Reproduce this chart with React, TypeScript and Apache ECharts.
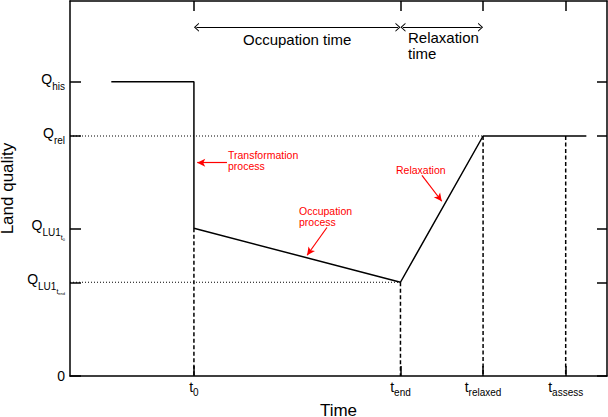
import React, { useEffect, useRef } from "react";
import * as echarts from "echarts";

// ---- data ----
const xTicks = [3, 8, 10, 12];
const xTickSubs = ["0", "end", "relaxed", "assess"];
const yTicks = [0, 25, 39.4, 64, 78.5];
const yTickLabels = [
  "{z|0}",
  "{q|Q}{s|LU1}{ss|t}{sss|end}",
  "{q|Q}{s|LU1}{ss|t}{sss|0}",
  "{q|Q}{s|rel}",
  "{q|Q}{s|his}",
];
const qualityPathX = [1, 3, 3, 8, 10, 12.5];
const qualityPathY = [78.5, 78.5, 39.4, 25, 64, 64];
// dotted reference lines [x0, x1, y]
const dottedLines = [
  [0, 10, 64],
  [0, 8, 25],
];
// dashed verticals [x, yTop]
const dashedLines = [
  [3, 39.4],
  [8, 25],
  [10, 64],
  [12, 64],
];
// time interval arrows [x0, x1, y]
const intervalArrows = [
  [3, 8, 93],
  [8, 10, 93],
];
// red annotation arrows [x0, y0, x1, y1]
const noteArrows = [
  [3.8, 56.9, 3.08, 56.9],
  [6.22, 39.6, 5.74, 32.2],
  [8.52, 53.5, 9.0, 46.6],
];

const FONT = "'Liberation Sans', Arial, Helvetica, sans-serif";
const CHEVRON = "path://M0,10 L5,0 L10,10 L8.6,10 L5,3 L1.4,10 Z";

export default function App() {
  const ref = useRef<HTMLDivElement>(null);
  useEffect(() => {
    if (!ref.current) return;
    document.body.style.margin = "0";
    document.body.style.overflow = "hidden";
    const chart = echarts.init(ref.current, null, { renderer: "svg", width: 608, height: 417 });
    const black = "#000";
    const findIdx = (arr: number[], v: number) =>
      arr.findIndex((a) => Math.abs(a - v) < 1e-6);

    const series: any[] = [];
    series.push({
      type: "line",
      data: qualityPathX.map((x, i) => [x, qualityPathY[i]]),
      symbol: "none",
      silent: true,
      lineStyle: { color: black, width: 1.5 },
      z: 5,
    });
    dottedLines.forEach(([x0, x1, y]) =>
      series.push({
        type: "line",
        data: [
          [x0, y],
          [x1, y],
        ],
        symbol: "none",
        silent: true,
        lineStyle: { color: black, width: 1, type: [1, 2] },
      })
    );
    dashedLines.forEach(([x, y]) =>
      series.push({
        type: "line",
        data: [
          [x, y],
          [x, 0],
        ],
        symbol: "none",
        silent: true,
        lineStyle: { color: black, width: 1.5, type: [4, 2.5] },
      })
    );
    series.push({
      type: "line",
      data: [],
      silent: true,
      markLine: {
        silent: true,
        animation: false,
        symbol: [CHEVRON, CHEVRON],
        symbolSize: [9, 5],
        label: { show: false },
        lineStyle: { color: black, width: 1.2, type: "solid" },
        data: intervalArrows.map(([x0, x1, y]) => [
          { coord: [x0 + 0.06, y] },
          { coord: [x1 - 0.06, y] },
        ]),
      },
    });
    series.push({
      type: "line",
      data: [],
      silent: true,
      markLine: {
        silent: true,
        animation: false,
        symbol: ["none", "arrow"],
        symbolSize: [6, 8],
        label: { show: false },
        lineStyle: { color: "#ff0000", width: 1.2, type: "solid" },
        data: noteArrows.map(([x0, y0, x1, y1]) => [
          { coord: [x0, y0] },
          { coord: [x1, y1] },
        ]),
      },
    });

    const axisLine = { show: true, onZero: false, lineStyle: { color: black, width: 1.5 } };
    const tickStyle = { color: black, width: 1.5 };

    chart.setOption({
      animation: false,
      grid: {
        left: 70,
        right: 1,
        top: 1,
        bottom: 41,
        containLabel: false,
        outerBoundsMode: "none",
      },
      xAxis: [
        {
          type: "value",
          min: 0,
          max: 13,
          position: "bottom",
          axisLine,
          splitLine: { show: false },
          axisTick: {
            show: true,
            inside: true,
            length: 10,
            customValues: xTicks,
            lineStyle: tickStyle,
          },
          axisLabel: {
            show: true,
            customValues: xTicks,
            margin: 4,
            formatter: (v: number) => {
              const i = findIdx(xTicks, v);
              return i < 0 ? "" : "{t|t}{ts|" + xTickSubs[i] + "}";
            },
            rich: {
              t: { fontSize: 14, fontFamily: FONT, color: black, padding: [0, 0, 4, 0] },
              ts: { fontSize: 10, fontFamily: FONT, color: black, padding: [7, 0, 0, 0] },
            },
          },
          name: "Time",
          nameLocation: "middle",
          nameGap: 18,
          nameTextStyle: { fontSize: 17, fontFamily: FONT, color: black },
        },
        {
          type: "value",
          min: 0,
          max: 13,
          position: "top",
          axisLine,
          splitLine: { show: false },
          axisTick: {
            show: true,
            inside: true,
            length: 10,
            customValues: xTicks,
            lineStyle: tickStyle,
          },
          axisLabel: { show: false },
        },
      ],
      yAxis: [
        {
          type: "value",
          min: 0,
          max: 100,
          position: "left",
          axisLine,
          splitLine: { show: false },
          axisTick: {
            show: true,
            inside: true,
            length: 11,
            customValues: yTicks,
            lineStyle: tickStyle,
          },
          axisLabel: {
            show: true,
            customValues: yTicks,
            margin: 5,
            formatter: (v: number) => {
              const i = findIdx(yTicks, v);
              return i < 0 ? "" : yTickLabels[i];
            },
            rich: {
              z: { fontSize: 14, fontFamily: FONT, color: black },
              q: { fontSize: 14, fontFamily: FONT, color: black, padding: [0, 0, 6, 0] },
              s: { fontSize: 10, fontFamily: FONT, color: black, padding: [9, 0, 0, 0] },
              ss: { fontSize: 7, fontFamily: FONT, color: black, padding: [18, 0, 0, 0] },
              sss: { fontSize: 4, fontFamily: FONT, color: black, padding: [22, 0, 0, 0] },
            },
          },
          name: "Land quality",
          nameLocation: "middle",
          nameGap: 49,
          nameRotate: 90,
          nameTextStyle: { fontSize: 17, fontFamily: FONT, color: black },
        },
        {
          type: "value",
          min: 0,
          max: 100,
          position: "right",
          axisLine,
          splitLine: { show: false },
          axisTick: {
            show: true,
            inside: true,
            length: 10,
            customValues: yTicks,
            lineStyle: tickStyle,
          },
          axisLabel: { show: false },
        },
      ],
      graphic: [
        {
          type: "text",
          left: 243,
          top: 32,
          style: { text: "Occupation time", font: "15px " + FONT, fill: black },
        },
        {
          type: "text",
          left: 408,
          top: 30,
          style: { text: "Relaxation", font: "15px " + FONT, fill: black },
        },
        {
          type: "text",
          left: 408,
          top: 46,
          style: { text: "time", font: "15px " + FONT, fill: black },
        },
        {
          type: "text",
          left: 228,
          top: 149,
          style: { text: "Transformation\nprocess", font: "10.5px " + FONT, fill: "#ff0000", lineHeight: 11 },
        },
        {
          type: "text",
          left: 299,
          top: 205,
          style: { text: "Occupation\nprocess", font: "10.5px " + FONT, fill: "#ff0000", lineHeight: 11 },
        },
        {
          type: "text",
          left: 396,
          top: 164,
          style: { text: "Relaxation", font: "10.5px " + FONT, fill: "#ff0000" },
        },
      ],
      series,
    });
    return () => chart.dispose();
  }, []);
  return <div ref={ref} style={{ width: 608, height: 417, background: "#fff" }} />;
}
